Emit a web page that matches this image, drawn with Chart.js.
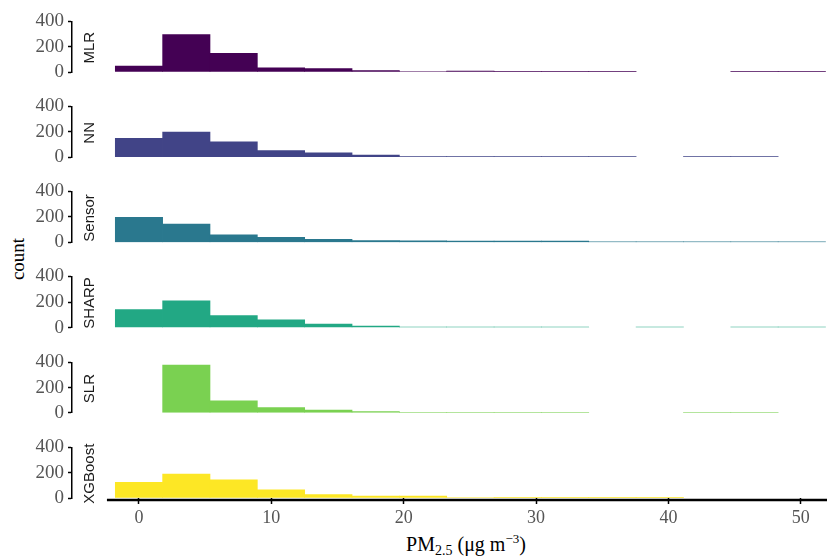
<!DOCTYPE html>
<html>
<head>
<meta charset="utf-8">
<script src="https://cdn.jsdelivr.net/npm/chart.js@4.4.1/dist/chart.umd.min.js"></script>
<style>
  body { margin: 0; background: #fff; }
  #wrap { position: relative; width: 827px; height: 557px; overflow: hidden; }
  #wrap canvas { position: absolute; left: 0; }
  .ylab {
    position: absolute; left: 18px; top: 259px;
    transform: translate(-50%, -50%) rotate(-90deg);
    font: 19px 'Liberation Serif', 'DejaVu Serif', serif; color: #000;
  }
  .xlab {
    position: absolute; left: 466px; top: 545px;
    transform: translate(-50%, -50%);
    font: 20px 'Liberation Serif', 'DejaVu Serif', serif; color: #000; white-space: nowrap;
  }
  .xlab sub { font-size: 14px; vertical-align: -4px; }
  .xlab sup { font-size: 13px; vertical-align: 8px; }
</style>
</head>
<body>
<div id="wrap">
  <div class="ylab">count</div>
  <div class="xlab">PM<sub>2.5</sub> (μg m<sup>−3</sup>)</div>
</div>
<script>
// histogram bins (centres, PM2.5)
const binCenters = [0, 3.577, 7.154, 10.731, 14.308, 17.885, 21.462, 25.039, 28.616, 32.193, 35.77, 39.347, 42.924, 46.501, 50.078];

const modelNames = ["MLR", "NN", "Sensor", "SHARP", "SLR", "XGBoost"];
const modelColors = ["#440154", "#414487", "#2a788e", "#22a884", "#7ad151", "#fde725"];

// counts per bin, null = empty bin
const mlrCounts = [47, 296, 147, 32, 27, 12, 4, 8, 5, 1, 1, null, null, 1, 1];
const nnCounts = [149, 198, 121, 52, 34, 17, 5, 1, 4, 1, 1, null, 1, 1, null];
const sensorCounts = [196, 144, 60, 40, 25, 15, 12, 10, 10, 10, 5, 3, 1, 1, 1];
const sharpCounts = [141, 209, 94, 60, 27, 12, 5, 1, 3, 1, null, 2, null, 1, 1];
const slrCounts = [null, 378, 95, 42, 22, 10, 4, 2, 2, 1, null, null, 1, 1, null];
const xgboostCounts = [124, 189, 144, 65, 27, 15, 15, 4, 2, 2, 2, 2, null, null, null];

const yTicks = [0, 200, 400];
const xTicks = [0, 10, 20, 30, 40, 50];

const allCounts = [mlrCounts, nnCounts, sensorCounts, sharpCounts, slrCounts, xgboostCounts];

const serif = "'Liberation Serif', 'DejaVu Serif', serif";
const panelHeight = 53.7;
const panelStep = 85.2;
const firstZero = 72;

// strip label (rotated model name) between axis and panel
const stripPlugin = {
  id: "strip",
  afterDraw(chart, args, opts) {
    const ctx = chart.ctx;
    const y = chart.scales.y;
    const cy = (y.getPixelForValue(0) + y.getPixelForValue(400)) / 2 + 1;
    ctx.save();
    ctx.translate(opts.x, cy);
    ctx.rotate(-Math.PI / 2);
    ctx.font = "15px 'Liberation Sans', 'DejaVu Sans', sans-serif";
    ctx.fillStyle = "#1a1a1a";
    ctx.textAlign = "center";
    ctx.textBaseline = "middle";
    ctx.fillText(opts.text, 0, 0);
    ctx.restore();
  },
};

// bottom axis line, starts where the panel starts (not at the y axis)
const xLinePlugin = {
  id: "xline",
  afterDraw(chart, args, opts) {
    if (!opts.show) return;
    const ctx = chart.ctx;
    const x = chart.scales.x;
    const yy = chart.chartArea.bottom + 2;
    ctx.save();
    ctx.strokeStyle = "#000";
    ctx.lineWidth = 2.5;
    ctx.beginPath();
    ctx.moveTo(x.getPixelForValue(opts.from), yy);
    ctx.lineTo(chart.chartArea.right, yy);
    ctx.stroke();
    ctx.restore();
  },
};

function makePanel(i) {
  const last = i === modelNames.length - 1;
  const zero = firstZero + panelStep * i;
  const top = Math.floor(zero - panelHeight - 12);
  const padTop = zero - panelHeight - top;
  const height = last ? 557 - top : 84;
  const xAxisHeight = last ? 33 : 0;
  const padBottom = height - padTop - panelHeight - xAxisHeight;

  const canvas = document.createElement("canvas");
  canvas.width = 827;
  canvas.height = height;
  canvas.style.top = top + "px";
  document.getElementById("wrap").appendChild(canvas);

  new Chart(canvas, {
    type: "bar",
    data: {
      datasets: [
        {
          data: binCenters.map((c, k) => ({ x: c, y: allCounts[i][k] })),
          backgroundColor: modelColors[i],
          borderWidth: 0,
          barPercentage: 1,
          categoryPercentage: 1,
          minBarLength: 0.45,
        },
      ],
    },
    options: {
      responsive: false,
      animation: false,
      events: [],
      layout: { padding: { top: padTop, bottom: padBottom, left: 0, right: 0 } },
      plugins: {
        legend: { display: false },
        tooltip: { enabled: false },
        strip: { text: modelNames[i], x: 90 },
        xline: { show: last, from: -2.42 },
      },
      scales: {
        x: {
          type: "linear",
          display: last,
          offset: false,
          min: -5.06,
          max: 51.98,
          afterBuildTicks: (s) => { s.ticks = xTicks.map((v) => ({ value: v })); },
          afterFit: (s) => { s.height = xAxisHeight; },
          border: { display: false },
          grid: {
            offset: false,
            drawOnChartArea: false,
            drawTicks: true,
            tickLength: 6,
            tickColor: "#000",
            tickWidth: 1.5,
          },
          ticks: {
            includeBounds: false,
            autoSkip: false,
            color: "#555",
            font: { family: serif, size: 18 },
            padding: 3,
            maxRotation: 0,
          },
        },
        y: {
          min: 0,
          max: 400,
          afterBuildTicks: (s) => { s.ticks = yTicks.map((v) => ({ value: v })); },
          afterFit: (s) => { s.width = 72; },
          border: { display: true, color: "#000", width: 1.5 },
          grid: {
            drawOnChartArea: false,
            drawTicks: true,
            tickLength: 4,
            tickColor: "#000",
            tickWidth: 1.5,
          },
          ticks: {
            autoSkip: false,
            color: "#555",
            font: { family: serif, size: 19 },
            padding: 4,
          },
        },
      },
    },
    plugins: [stripPlugin, xLinePlugin],
  });
}

modelNames.forEach((name, i) => makePanel(i));
</script>
</body>
</html>
